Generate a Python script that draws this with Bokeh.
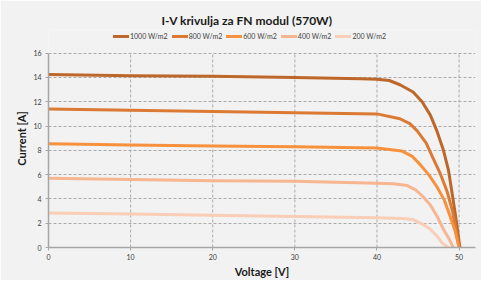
from bokeh.plotting import figure
from bokeh.models import Legend, LegendItem, Range1d, FixedTicker, Title
from bokeh.embed import file_html
from bokeh.resources import INLINE

labels = ["1000 W/m2", "800 W/m2", "600 W/m2", "400 W/m2", "200 W/m2"]
colors = ["#BE672B", "#DC7933", "#F7913D", "#F7B590", "#F9CDB6"]

v1000 = [0, 10, 20, 30, 38, 40, 41.5, 42.8, 44.4, 45.5, 46.5, 47.3, 48.1, 48.7, 49.1, 49.6, 50.1]
i1000 = [14.25, 14.15, 14.1, 14.0, 13.9, 13.85, 13.75, 13.4, 12.8, 12.0, 10.9, 9.6, 8.0, 6.4, 4.7, 2.5, 0]

v800 = [0, 10, 20, 30, 40, 42.8, 44, 44.9, 46, 46.8, 47.7, 48.5, 49.2, 50.0]
i800 = [11.4, 11.3, 11.2, 11.1, 11.0, 10.6, 10.2, 9.6, 8.6, 7.4, 6.1, 4.7, 3.0, 0]

v600 = [0, 10, 20, 30, 40, 43, 44.3, 45.3, 46.3, 47.3, 48.2, 48.9, 49.5, 50.0]
i600 = [8.55, 8.45, 8.35, 8.3, 8.2, 7.95, 7.5, 6.8, 6.0, 5.0, 3.9, 2.6, 1.4, 0]

v400 = [0, 10, 20, 30, 40, 42, 43.7, 44.7, 45.6, 46.5, 47.3, 48.1, 48.7, 49.3]
i400 = [5.7, 5.6, 5.5, 5.45, 5.3, 5.25, 5.1, 4.75, 4.2, 3.5, 2.6, 1.5, 0.8, 0]

v200 = [0, 10, 20, 30, 40, 43, 44.4, 45.5, 46.5, 47.3, 47.9, 48.7]
i200 = [2.85, 2.75, 2.65, 2.55, 2.45, 2.38, 2.3, 1.95, 1.5, 0.95, 0.4, 0]

x_ticks = [0, 10, 20, 30, 40, 50]
y_ticks = [0, 2, 4, 6, 8, 10, 12, 14, 16]

series = [(v1000, i1000), (v800, i800), (v600, i600), (v400, i400), (v200, i200)]

FONT = "Lato"
bg = "#F2F2F2"
grid_col = "#ABABAB"

p = figure(width=481, height=280, output_backend="svg", toolbar_location=None,
           x_range=Range1d(0, 52), y_range=Range1d(0, 17.95),
           min_border_left=48, min_border_right=6, min_border_top=29, min_border_bottom=30,
           background_fill_color=bg, border_fill_color=bg)
p.outline_line_color = None

# vertical grid lines limited to the tick span of the y axis
n = len(x_ticks)
p.segment(x0=x_ticks, y0=[y_ticks[0]] * n, x1=x_ticks, y1=[y_ticks[-1]] * n,
          line_color=grid_col, line_dash="3 2", line_width=1)
p.xgrid.visible = False

items = []
for (vx, iy), c, lab in zip(series, colors, labels):
    r = p.line(vx, iy, line_color=c, line_width=3, line_join="round", line_cap="round")
    items.append(LegendItem(label=lab, renderers=[r]))

p.xaxis.ticker = FixedTicker(ticks=x_ticks)
p.yaxis.ticker = FixedTicker(ticks=y_ticks)
p.yaxis.bounds = (y_ticks[0], y_ticks[-1])
for ax in (p.xaxis, p.yaxis):
    ax.axis_line_color = "#A6A6A6"
    ax.axis_line_width = 1.5
    ax.major_tick_line_color = "#A6A6A6"
    ax.major_tick_out = 3
    ax.major_tick_in = 0
    ax.minor_tick_line_color = None
    ax.major_label_text_font = FONT
    ax.major_label_text_font_size = "7px"
    ax.major_label_text_color = "#404040"
    ax.axis_label_text_font = FONT
    ax.axis_label_text_font_style = "bold"
    ax.axis_label_text_font_size = "11px"
    ax.axis_label_text_color = "#1a1a1a"
p.xaxis.axis_label = "Voltage [V]"
p.yaxis.axis_label = "Current [A]"
p.xaxis.major_label_standoff = 3
p.yaxis.major_label_standoff = 4
p.xaxis.axis_label_standoff = 2
p.yaxis.axis_label_standoff = 2

p.ygrid.grid_line_color = grid_col
p.ygrid.grid_line_dash = "3 2"
p.ygrid.grid_line_width = 1

legend = Legend(items=items, orientation="horizontal", location=(65, 207),
                label_text_font=FONT, label_text_font_size="7px", label_text_color="#404040",
                glyph_width=16, glyph_height=6, label_standoff=1, spacing=4,
                padding=0, margin=0, background_fill_alpha=0, border_line_color=None)
p.add_layout(legend, "center")

p.title = Title(text="I-V krivulja za FN modul (570W)", align="left",
                text_font=FONT, text_font_size="12px", text_font_style="bold",
                text_color="#1a1a1a", offset=113, standoff=4)

open("out.html", "w").write(file_html(p, INLINE))
